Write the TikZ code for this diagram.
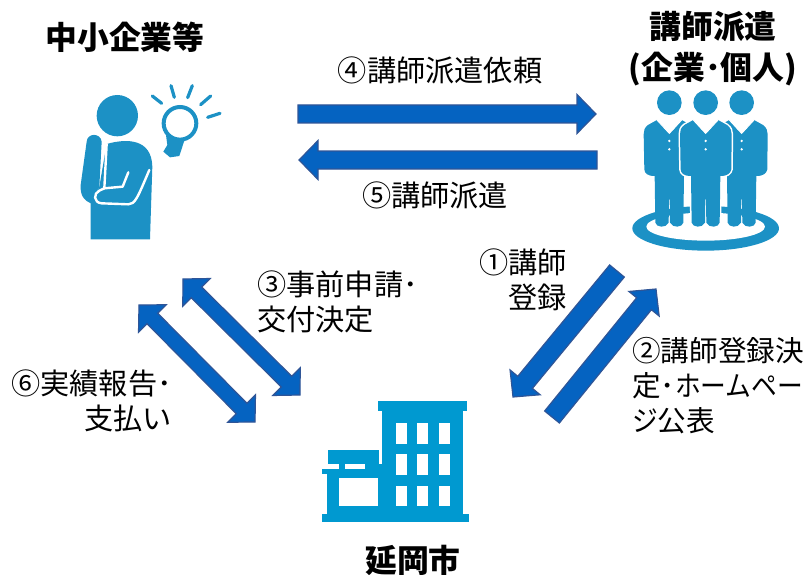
\documentclass[tikz,border=0pt]{standalone}
\usepackage{fontspec}
\setmainfont{Noto Sans CJK JP}
\newfontfamily\narrowkana[FakeStretch=0.9]{Noto Sans CJK JP}
\usetikzlibrary{calc}
\definecolor{arrowfill}{HTML}{0563C1}
\definecolor{arrowline}{HTML}{2F5597}
\definecolor{iconblue}{HTML}{1C91C5}
\definecolor{cityblue}{HTML}{0099D0}
\tikzset{
    lbl/.style={inner sep=0pt, font=\fontsize{29.2}{34.5}\selectfont},
    title/.style={inner sep=0pt, align=center, font=\fontsize{31.8}{41}\selectfont\bfseries},
    blockarrow/.style={fill=arrowfill, draw=arrowline, line width=1.2pt, line join=miter},
    icon/.style={x=0.3333pt, y=-0.3333pt}
}
% tail, tip, half width of the shaft
\newcommand{\blockarrow}[3]{
    \coordinate (hd) at ($(#2)!19pt!(#1)$);
    \draw[blockarrow] ($(#1)!#3!90:(#2)$) -- ($(hd)!#3!90:(#2)$) -- ($(hd)!19.5pt!90:(#2)$) -- (#2)
        -- ($(hd)!19.5pt!-90:(#2)$) -- ($(hd)!#3!-90:(#2)$) -- ($(#1)!#3!-90:(#2)$) -- cycle;
}
% the same with a head at both ends
\newcommand{\blockarrows}[3]{
    \coordinate (hd) at ($(#2)!19pt!(#1)$);
    \coordinate (hdb) at ($(#1)!19pt!(#2)$);
    \draw[blockarrow] (#1) -- ($(hdb)!19.5pt!-90:(#1)$) -- ($(hdb)!#3!-90:(#1)$)
        -- ($(hd)!#3!90:(#2)$) -- ($(hd)!19.5pt!90:(#2)$) -- (#2)
        -- ($(hd)!19.5pt!-90:(#2)$) -- ($(hd)!#3!-90:(#2)$)
        -- ($(hdb)!#3!90:(#1)$) -- ($(hdb)!19.5pt!90:(#1)$) -- cycle;
}
% one man of the group, centred on x=0
\newcommand{\manbody}{
    (-37,52) -- (-64,67) .. controls (-75,75) and (-77,85) .. (-77,95) -- (-75,200)
    .. controls (-74,212) and (-66,220) .. (-44,220) -- (-42,360)
    .. controls (-40,374) and (-10,378) .. (-2,360) -- (-1,290) -- (1,290) -- (2,360)
    .. controls (10,378) and (40,374) .. (42,360) -- (44,220)
    .. controls (66,220) and (74,212) .. (77,200) -- (78,95)
    .. controls (78,85) and (75,75) .. (64,67) -- (37,52) -- (0,92) -- cycle
}
\newcommand{\mandetail}{
    \fill[iconblue] (0,0) circle (37);
    \draw[white, line width=1pt] (-37,52) -- (0,92) -- (37,52);
    \draw[white, line width=0.8pt] (-17,48) -- (17,48) -- (15,76) -- (0,90) -- (-15,76) -- cycle;
    \fill[white] (0,115) circle (4);
    \fill[white] (0,140) circle (4);
}
\begin{document}
\begin{tikzpicture}[x=1pt, y=-1pt]
    \useasboundingbox (0,0) rectangle (805,575);

    % Titles:
    \node[title] (sme) at (125,37) {中小企業等};
    \node[title] (dispatch) at (713,49) {講師派遣\\(企業･個人)};
    \node[title] (city) at (413,560) {延岡市};

    % Labels:
    \node[lbl] (req) at (440,70) {④講師派遣依頼};
    \node[lbl] (send) at (435,195) {⑤講師派遣};
    \node[lbl, align=right, anchor=east] (reg) at (567,280) {①講師\\登録};
    \node[lbl, align=left, anchor=west, font=\fontsize{28.6}{35}\selectfont] (pub) at (632,386)
        {②講師登録決\\定･{\narrowkana ホームペー}\\{\narrowkana ジ}公表};
    \node[lbl, align=left, anchor=west] (apply) at (257,302) {③事前申請･\\交付決定};
    \node[lbl, align=right, anchor=east] (pay) at (172,401) {⑥実績報告･\\支払い};

    % Arrows:
    \coordinate (a4s) at (298,114);  \coordinate (a4e) at (596,114);
    \coordinate (a5s) at (597,160);  \coordinate (a5e) at (299,160);
    \coordinate (a1s) at (617,271);  \coordinate (a1e) at (513,397);
    \coordinate (a2s) at (552,417);  \coordinate (a2e) at (656,289);
    \coordinate (a3s) at (183,279);  \coordinate (a3e) at (300,395);
    \coordinate (a6s) at (139,305);  \coordinate (a6e) at (255,422);
    \blockarrow{a4s}{a4e}{9pt}
    \blockarrow{a5s}{a5e}{9pt}
    \blockarrow{a1s}{a1e}{9.5pt}
    \blockarrow{a2s}{a2e}{9.5pt}
    \blockarrows{a3s}{a3e}{7.5pt}
    \blockarrows{a6s}{a6e}{7.5pt}

    % Thinking person:
    \begin{scope}[shift={(60,70)}, icon]
        \fill[iconblue] (172,137) circle (62);
        \fill[iconblue] (80,215) .. controls (82,188) and (122,188) .. (125,215) -- (118,350)
            -- (92,400) .. controls (75,392) and (60,380) .. (62,345) -- cycle;
        \fill[iconblue] (140,222) .. controls (200,205) and (275,205) .. (277,290)
            -- (270,508) -- (92,508) -- (92,395) -- (118,350) -- cycle;
        \draw[white, line width=2.4pt, line cap=round, line join=round] (140,222) -- (133,355)
            -- (118,362) .. controls (100,370) and (100,398) .. (125,400) -- (205,403)
            .. controls (225,403) and (232,385) .. (268,300);
        \draw[white, line width=2.4pt, line cap=round, line join=round] (133,355) -- (188,350) -- (205,307);
        % bulb
        \draw[iconblue, line width=4pt] (360,160) circle (49);
        \fill[iconblue] (318,195) -- (322,225) -- (310,245) -- (330,262) -- (358,258) -- (372,215)
            -- (382,198) -- (350,212) -- cycle;
        \foreach \xa/\ya/\xb/\yb in {277/78/305/100, 333/47/343/82, 397/47/383/83, 452/78/422/104, 480/130/443/142}
            \draw[iconblue, line width=3.2pt, line cap=round] (\xa,\ya) -- (\xb,\yb);
    \end{scope}

    % Group of people:
    \begin{scope}[shift={(620,70)}, icon]
        \fill[iconblue] (257,475) ellipse [x radius=220, y radius=67];
        \fill[white] (257,470) ellipse [x radius=178, y radius=42];
        \foreach \xm in {148,365} {
            \begin{scope}[xshift=\xm*0.3333pt, yshift=-1*98*0.3333pt]
                \fill[iconblue] \manbody;
                \mandetail
            \end{scope}
        }
        \begin{scope}[xshift=257*0.3333pt, yshift=-1*98*0.3333pt]
            \fill[iconblue, preaction={draw=white, line width=3pt}] \manbody;
            \mandetail
        \end{scope}
    \end{scope}

    % City hall:
    \begin{scope}[shift={(310,390)}, icon]
        \fill[cityblue] (203,33) rectangle (470,63);
        \fill[cityblue] (217,63) rectangle (460,372);
        \fill[cityblue] (35,372) rectangle (477,395);
        \fill[cityblue] (52,252) rectangle (217,372);
        \fill[cityblue] (35,238) rectangle (217,252);
        \fill[cityblue] (55,180) rectangle (207,222);
        \fill[cityblue] (88,222) rectangle (105,238);
        \fill[cityblue] (165,222) rectangle (217,238);
        \fill[white] (88,265) rectangle (205,348);
        \foreach \xw in {257,321,386}
            \foreach \yw in {100,193,287}
                \fill[white] (\xw,\yw) rectangle +(33,62);
    \end{scope}
\end{tikzpicture}
\end{document}
